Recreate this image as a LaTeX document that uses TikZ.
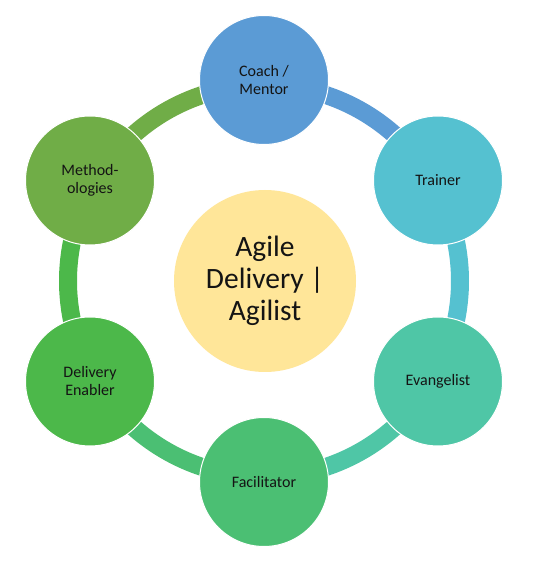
\documentclass[tikz,border=0pt]{standalone}
\usepackage{fontspec}
\setmainfont{Carlito}
\definecolor{cBlue}{HTML}{5B9BD5}
\definecolor{cCyan}{HTML}{55C1D0}
\definecolor{cTeal}{HTML}{4FC6A6}
\definecolor{cGreenA}{HTML}{4BBF73}
\definecolor{cGreenB}{HTML}{4CB84A}
\definecolor{cOlive}{HTML}{70AD47}
\definecolor{cYellow}{HTML}{FFE699}
\definecolor{txt}{HTML}{141414}
\begin{document}
\begin{tikzpicture}[x=1pt,y=1pt,
  outer/.style={circle, draw=white, line width=1pt, minimum size=129pt, inner sep=0pt,
    align=center, text=txt, font=\fontsize{16}{18}\selectfont},
  hub/.style={circle, fill=cYellow, minimum size=182pt, inner sep=0pt,
    align=center, text=txt, font=\fontsize{29.5}{32}\selectfont},
  ring/.style={line width=18pt}]
\useasboundingbox (0,0) rectangle (534,568);
\fill[white] (0,0) rectangle (534,568);
\coordinate (c) at (264,287);
% ring segments
\draw[ring, cBlue]   (c) ++(90:196)  arc[start angle=90,  end angle=30,   radius=196];
\draw[ring, cCyan]   (c) ++(30:196)  arc[start angle=30,  end angle=-30,  radius=196];
\draw[ring, cTeal]   (c) ++(-30:196) arc[start angle=-30, end angle=-90,  radius=196];
\draw[ring, cGreenA] (c) ++(-90:196) arc[start angle=-90, end angle=-150, radius=196];
\draw[ring, cGreenB] (c) ++(210:196) arc[start angle=210, end angle=150,  radius=196];
\draw[ring, cOlive]  (c) ++(150:196) arc[start angle=150, end angle=90,   radius=196];
% nodes
\node[hub] (hub) at (265,287) {Agile\\Delivery |\\Agilist};
\node[outer, fill=cBlue]   (coach) at (264,488)   {Coach /\\Mentor};
\node[outer, fill=cCyan]   (trainer) at (438,387.5) {Trainer};
\node[outer, fill=cTeal]   (evang) at (438,186.5) {Evangelist};
\node[outer, fill=cGreenA] (facil) at (264,86)    {Facilitator};
\node[outer, fill=cGreenB] (deliv) at (90,186.5)  {Delivery\\Enabler};
\node[outer, fill=cOlive]  (meth) at (90,387.5)   {Method-\\ologies};
\end{tikzpicture}
\end{document}
